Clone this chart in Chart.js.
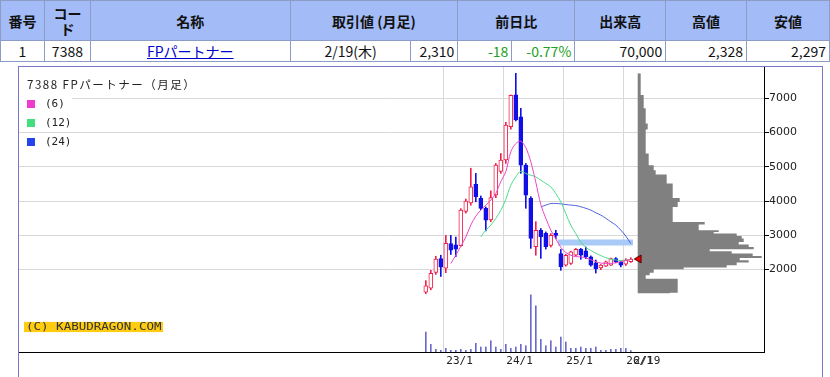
<!DOCTYPE html>
<html><head><meta charset="utf-8">
<script src="https://cdn.jsdelivr.net/npm/chart.js@4/dist/chart.umd.min.js"></script>
<style>
html,body{margin:0;padding:0;background:#fff;width:830px;height:377px;overflow:hidden;font-family:"Noto Sans CJK JP","Noto Sans",sans-serif;}
#tbl{position:absolute;left:0;top:0;border-collapse:collapse;table-layout:fixed;}
#tbl td,#tbl th{border:1px solid #8c9cc4;padding:0 3px;font-size:14px;line-height:16px;color:#111;white-space:nowrap;}
#tbl th{background:#a3bbf6;font-weight:bold;height:39px;text-align:center;white-space:normal;}
#tbl td{height:20px;}
.r{text-align:right}.c{text-align:center}
.g{color:#22a022 !important}
a{color:#0000cc;text-decoration:underline}
#box{position:absolute;left:18px;top:66px;width:803px;height:320px;border:1px solid #7777cc;}
#cv{position:absolute;left:19px;top:67px;}
.ov{position:absolute;font-family:"DejaVu Sans Mono",monospace;font-size:11px;color:#222;background:#fff;line-height:15px;}
.sw{display:inline-block;width:8px;height:8px;margin-right:10px;vertical-align:-1px}
#copy{position:absolute;left:24px;top:321px;height:12px;background:#ffcc11;font-family:"DejaVu Sans Mono",monospace;font-size:12.5px;line-height:12px;color:#333;padding:0 2px;transform:scaleY(0.85);transform-origin:0 50%;}
</style></head><body>
<table id="tbl">
<colgroup><col style="width:44px"><col style="width:46px"><col style="width:200px"><col style="width:121px"><col style="width:47px"><col style="width:54px"><col style="width:63px"><col style="width:91px"><col style="width:81px"><col style="width:83px"></colgroup>
<tr><th>番号</th><th>コード</th><th>名称</th><th colspan="2">取引値 (月足)</th><th colspan="2">前日比</th><th>出来高</th><th>高値</th><th>安値</th></tr>
<tr><td class="c">1</td><td class="c">7388</td><td class="c"><a>FPパートナー</a></td><td class="c">2/19(木)</td><td class="r">2,310</td><td class="r g">-18</td><td class="r g">-0.77%</td><td class="r">70,000</td><td class="r">2,328</td><td class="r">2,297</td></tr>
</table>
<div id="box"></div>
<canvas id="cv" width="803" height="311"></canvas>
<div class="ov" style="left:27px;top:77px;font-family:'Noto Sans CJK JP';font-size:11.5px;letter-spacing:1.5px;background:transparent">7388 FPパートナー（月足）</div>
<div class="ov" style="left:19px;top:96px;width:45px;padding-left:8px"><span class="sw" style="background:#f03ccc"></span>(6)</div>
<div class="ov" style="left:19px;top:115px;width:45px;padding-left:8px;background:transparent"><span class="sw" style="background:#44dd80"></span>(12)</div>
<div class="ov" style="left:19px;top:134px;width:45px;padding-left:8px;background:transparent"><span class="sw" style="background:#2244ee"></span>(24)</div>
<div id="copy">(C) KABUDRAGON.COM</div>
<script>
// ---- data ----
const months = ['22/9','22/10','22/11','22/12','23/1','23/2','23/3','23/4','23/5','23/6','23/7','23/8','23/9','23/10','23/11','23/12',
 '24/1','24/2','24/3','24/4','24/5','24/6','24/7','24/8','24/9','24/10','24/11','24/12',
 '25/1','25/2','25/3','25/4','25/5','25/6','25/7','25/8','25/9','25/10','25/11','25/12','26/1','26/2'];
const openP  = [1340,1460,1920,2320,2040,2760,2720,2700,3700,3950,4490,4080,3790,3450,4180,4870,5200,6170,7100,6460,5050,4080,2670,3150,3060,2710,3060,2470,2130,2180,2420,2590,2550,2370,2200,2050,2100,2130,2320,2230,2160,2230];
const highP  = [1680,1980,2390,2420,3000,3000,2950,3780,4060,4960,4810,4150,3830,4300,5100,5390,6300,7100,7730,6710,5100,4130,3400,3200,3100,3050,3150,2590,2450,2540,2620,2620,2660,2400,2280,2150,2250,2340,2350,2250,2320,2350];
const lowP   = [1300,1410,1860,1800,1910,2440,2380,2680,3650,3880,3980,3750,3130,3400,4100,4810,5100,6100,6340,4810,3790,2620,2420,2330,2600,2660,2900,1980,2100,2150,2400,2300,2320,2100,1900,2000,2090,2120,2200,2080,2120,2210];
const closeP = [1530,1890,2310,2070,2770,2570,2600,3740,4000,4420,4130,3790,3440,4100,5050,5200,6220,7090,6370,5050,4170,2910,3150,2960,2670,3000,3000,2080,2420,2520,2590,2420,2370,2130,2030,2130,2230,2320,2230,2130,2280,2310];
const volume = [200,77,27,17,37,17,17,27,17,27,87,50,50,113,50,27,77,37,50,77,63,573,463,127,63,113,50,150,100,37,37,50,37,37,50,17,17,27,27,37,37,15];
const ma6  = [null,null,null,null,null,2180,2420,2680,2950,3300,3560,3735,3880,4030,4225,4570,4860,5440,5680,5750,5560,5150,4550,3900,3500,3150,2900,2650,2500,2420,2380,2370,2340,2290,2230,2190,2180,2180,2200,2230,2270,2295];
const ma12 = [null,null,null,null,null,null,null,null,null,null,null,2957,3153,3298,3494,3734,4050,4465,4708,4874,4806,4757,4708,4611,4514,4416,4222,3977,3637,3295,3051,2800,2650,2560,2480,2410,2350,2310,2280,2265,2280,2300];
const ma24 = [null,null,null,null,null,null,null,null,null,null,null,null,null,null,null,null,null,null,null,null,null,null,null,3835,3880,3930,3930,3920,3900,3884,3870,3835,3790,3737,3660,3591,3500,3396,3300,3153,2980,2760];
// volume-by-price profile: price bands (low edge -> high edge) and relative volume
const profLow  = [1300,1328,1737,1833,1912,2009,2059,2126,2205,2272,2339,2398,2468,2535,2594,2661,2731,2807,2906,2983,3053,3100,3149,3316,3392,3830,3977,4094,4515,4778,4904,5050,5392,6094,6269,6708,7096];
const profHigh = [1328,1737,1833,1912,2009,2059,2126,2205,2272,2339,2398,2468,2535,2594,2661,2731,2807,2906,2983,3053,3100,3149,3316,3392,3830,3977,4094,4515,4778,4904,5050,5392,6094,6269,6708,7096,7731];
const profVol  = [32,40,8,12,16,46,89,99,111,102,124,115,94,72,116,111,101,106,104,99,76,81,61,67,35,40,42,35,29,18,16,11,8,10,8,6,3];
const band = {from:'24/11', to:'26/2', low:2700, high:2880};
const lastPrice = 2310;
const lastDateLabel = '2/19';
const priceTicks = [2000,3000,4000,5000,6000,7000];
const yearTicks = ['23/1','24/1','25/1','26/1'];

// month label -> position on the time axis (0 = start of 23/1)
const mpos = s => { const [y,m] = s.split('/').map(Number); return (y-23)*12 + (m-1); };
const xs = months.map(m => mpos(m) + 0.5);
const up = months.map((_,i) => closeP[i] >= openP[i]);
const RED='#f0204c', BLUE='#1010e6';

const pts = arr => arr.map((v,i)=> v==null?null:{x:xs[i],y:v}).filter(Boolean);
const profPts = [];
for (let i=0;i<profLow.length;i++) profPts.push({x:profVol[i], y:profLow[i]});
profPts.push({x:0, y:profHigh[profHigh.length-1]});

const tickPos = yearTicks.map(mpos);
const lastPos = xs[xs.length-1];
const bandMid = (band.low+band.high)/2;

const chart = new Chart(document.getElementById('cv'), {
  type:'bar',
  data:{ datasets:[
    {type:'line', label:'band', data:[{x:mpos(band.from)+0.94,y:bandMid},{x:mpos(band.to)+0.94,y:bandMid}],
      borderColor:'#a9c9f7', borderWidth:6, pointRadius:0, borderCapStyle:'butt', order:10},
    {type:'line', label:'profile', indexAxis:'y', xAxisID:'xp', yAxisID:'y', data:profPts, stepped:'after',
      borderColor:'rgba(0,0,0,0)', borderWidth:1, backgroundColor:'#808080', fill:'origin', pointRadius:0, order:9},
    {label:'volume', yAxisID:'yv', data:volume.map((v,i)=>({x:xs[i],y:v})), backgroundColor:'#6a6acc', barThickness:1, grouped:false, order:8},
    {label:'wick', data:months.map((_,i)=>({x:xs[i],y:[lowP[i],highP[i]]})), backgroundColor:up.map(u=>u?RED:BLUE), barThickness:1, grouped:false, order:7},
    {label:'body', data:months.map((_,i)=>({x:xs[i],y:[Math.min(openP[i],closeP[i]),Math.max(openP[i],closeP[i])]})),
      backgroundColor:up.map(u=>u?'#ffffff':BLUE), borderColor:up.map(u=>u?RED:BLUE), borderWidth:1, borderSkipped:false, barThickness:4, grouped:false, order:6},
    {type:'line', label:'(24)', data:pts(ma24), borderColor:'#4a62de', borderWidth:1, pointRadius:0, tension:0.3, order:3},
    {type:'line', label:'(12)', data:pts(ma12), borderColor:'#4ddc88', borderWidth:1, pointRadius:0, tension:0.3, order:2},
    {type:'line', label:'(6)', data:pts(ma6), borderColor:'#ee44c8', borderWidth:1, pointRadius:0, tension:0.3, order:1},
    {type:'scatter', label:'last', data:[{x:lastPos+1.6,y:lastPrice}], pointStyle:'triangle', rotation:-90, radius:4.5,
      backgroundColor:'#ee0000', borderColor:'#550000', borderWidth:1, order:0}
  ]},
  options:{
    responsive:false, animation:false, devicePixelRatio:1,
    layout:{padding:0, autoPadding:false},
    plugins:{legend:{display:false}, tooltip:{enabled:false}},
    scales:{
      x:{type:'linear', position:'bottom', min:-84.86, max:64.14, offset:false,
        afterBuildTicks:s=>{ s.ticks = tickPos.map(v=>({value:v})).concat([{value:lastPos}]); },
        afterFit:s=>{ s.height = 26; s.paddingLeft = 0; s.paddingRight = 0; },
        ticks:{align:'start', labelOffset:3, autoSkip:false, maxRotation:0, padding:3, color:'#222', font:{family:'DejaVu Sans Mono', size:11},
          callback:(v)=>{ const k=tickPos.indexOf(v); return k>=0? yearTicks[k] : lastDateLabel; }},
        grid:{offset:false, drawTicks:false, color:c=> (c.tick && tickPos.includes(c.tick.value)) ? '#d8d8d8' : 'rgba(0,0,0,0)'},
        border:{display:true, color:'#000', width:1}},
      y:{type:'linear', position:'right', min:-405, max:7915,
        afterBuildTicks:s=>{ s.ticks = priceTicks.map(v=>({value:v})); },
        afterFit:s=>{ s.width = 58; s.paddingTop = 0; s.paddingBottom = 0; },
        ticks:{padding:0, color:'#222', font:{family:'DejaVu Sans', size:11}, callback:v=>String(v)},
        grid:{color:'#d8d8d8', tickColor:'#000', tickLength:5, drawTicks:true},
        border:{display:true, color:'#000', width:1}},
      yv:{type:'linear', display:false, min:0, max:2857},
      xp:{type:'linear', axis:'x', display:false, offset:false, grid:{offset:false}, min:-618.7, max:126.3}
    }
  }
});
</script>
</body></html>
